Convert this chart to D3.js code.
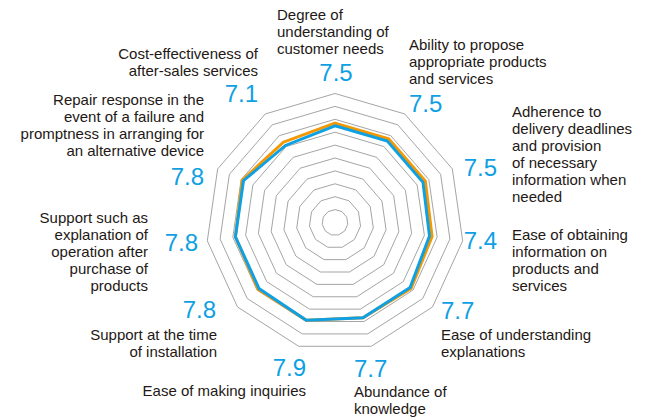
<!DOCTYPE html>
<html>

<head>
  <meta charset="utf-8">
  <title>Radar chart</title>
  <script type="text/javascript" src="https://cdn.jsdelivr.net/npm/d3@7"></script>
  <style>
    body { margin: 0; background: #fff; }
    svg { display: block; font-family: "Liberation Sans", Arial, Helvetica, sans-serif; }
  </style>
</head>

<body>
  <script type="text/javascript">

    // Kategorier (med linjeskift), med uret fra toppen
    const categories = [
      ["Degree of", "understanding of", "customer needs"],
      ["Ability to propose", "appropriate products", "and services"],
      ["Adherence to", "delivery deadlines", "and provision", "of necessary", "information when", "needed"],
      ["Ease of obtaining", "information on", "products and", "services"],
      ["Ease of understanding", "explanations"],
      ["Abundance of", "knowledge"],
      ["Ease of making inquiries"],
      ["Support at the time", "of installation"],
      ["Support such as", "explanation of", "operation after", "purchase of", "products"],
      ["Repair response in the", "event of a failure and", "promptness in arranging for", "an alternative device"],
      ["Cost-effectiveness of", "after-sales services"]
    ];

    // Serier
    const currentScores = [7.5, 7.5, 7.5, 7.4, 7.7, 7.7, 7.9, 7.8, 7.8, 7.8, 7.1];
    const previousScores = [7.7, 7.7, 7.7, 7.6, 7.8, 7.7, 7.9, 7.9, 7.8, 7.9, 7.4];

    // Ringe 1..10
    const gridLevels = d3.range(1, 11);

    // Placering af tekster: (x, y) = første grundlinje for teksten, tal = grundlinje for tallet
    const labelLayout = [
      { x: 277, y: 20, anchor: "start", nx: 336, ny: 81, nanchor: "middle" },
      { x: 409, y: 50, anchor: "start", nx: 409, ny: 112, nanchor: "start" },
      { x: 512, y: 117, anchor: "start", nx: 497, ny: 176, nanchor: "end" },
      { x: 512, y: 240, anchor: "start", nx: 497, ny: 249, nanchor: "end" },
      { x: 441, y: 340, anchor: "start", nx: 441, ny: 319, nanchor: "start" },
      { x: 354, y: 397, anchor: "start", nx: 354, ny: 377, nanchor: "start" },
      { x: 306, y: 396, anchor: "end", nx: 306, ny: 376, nanchor: "end" },
      { x: 217, y: 340, anchor: "end", nx: 216, ny: 318, nanchor: "end" },
      { x: 148, y: 223, anchor: "end", nx: 198, ny: 251, nanchor: "end" },
      { x: 204, y: 105, anchor: "end", nx: 204, ny: 185, nanchor: "end" },
      { x: 258, y: 59, anchor: "end", nx: 258, ny: 102, nanchor: "end" }
    ];

    const w = 662;
    const h = 418;
    const cx = 335;
    const cy = 222.5;
    const n = categories.length;

    const blue = "#0fa0e3";
    const orange = "#f39800";

    const svg = d3.select("body")
      .append("svg")
      .attr("width", w)
      .attr("height", h);

    const g = svg.append("g")
      .attr("transform", "translate(" + cx + "," + cy + ")");

    // Radius-skala
    const rScale = d3.scaleLinear()
      .domain([0, 10])
      .range([0, 129]);

    // Vinkel-skala (vinkel 0 = op)
    const aScale = d3.scaleLinear()
      .domain([0, n])
      .range([0, 2 * Math.PI]);

    const radar = d3.lineRadial()
      .angle(function (d, i) { return aScale(i); })
      .radius(function (d) { return rScale(d); })
      .curve(d3.curveLinearClosed);

    // Gitter
    g.selectAll(".grid")
      .data(gridLevels)
      .enter()
      .append("path")
      .attr("class", "grid")
      .attr("d", function (lvl) {
        return radar(categories.map(function () { return lvl; }));
      })
      .attr("fill", "none")
      .attr("stroke", "#a5a5a5")
      .attr("stroke-width", 1);

    // Serier
    g.append("path")
      .attr("d", radar(previousScores))
      .attr("fill", "none")
      .attr("stroke", orange)
      .attr("stroke-width", 3)
      .attr("stroke-linejoin", "miter");

    g.append("path")
      .attr("d", radar(currentScores))
      .attr("fill", "none")
      .attr("stroke", blue)
      .attr("stroke-width", 3)
      .attr("stroke-linejoin", "miter");

    // Tekster
    const labels = svg.selectAll(".label")
      .data(categories)
      .enter()
      .append("text")
      .attr("class", "label")
      .attr("x", function (d, i) { return labelLayout[i].x; })
      .attr("y", function (d, i) { return labelLayout[i].y; })
      .attr("text-anchor", function (d, i) { return labelLayout[i].anchor; })
      .attr("fill", "#231815")
      .attr("font-size", "15px");

    labels.each(function (lines, i) {
      d3.select(this).selectAll("tspan")
        .data(lines)
        .enter()
        .append("tspan")
        .attr("x", labelLayout[i].x)
        .attr("dy", function (l, j) { return j === 0 ? 0 : 17; })
        .text(function (l) { return l; });
    });

    // Tal
    svg.selectAll(".score")
      .data(currentScores)
      .enter()
      .append("text")
      .attr("class", "score")
      .attr("x", function (d, i) { return labelLayout[i].nx; })
      .attr("y", function (d, i) { return labelLayout[i].ny; })
      .attr("text-anchor", function (d, i) { return labelLayout[i].nanchor; })
      .attr("fill", blue)
      .attr("font-size", "24px")
      .text(function (d) { return d.toFixed(1); });
  </script>
</body>

</html>
